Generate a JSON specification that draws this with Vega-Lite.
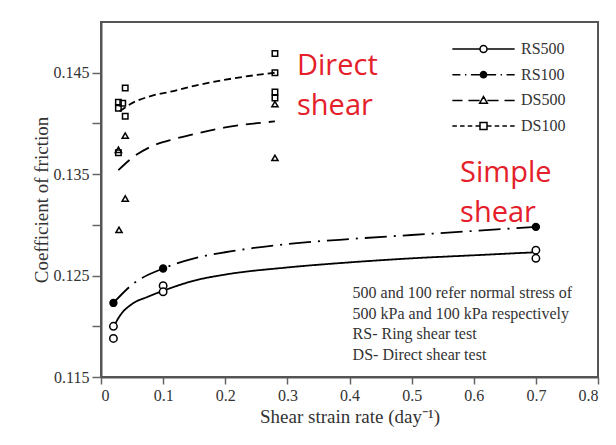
{
  "$schema": "https://vega.github.io/schema/vega-lite/v6.json",
  "width": 497,
  "height": 355,
  "autosize": "none",
  "padding": {"left": 101, "top": 22, "right": 18, "bottom": 68},
  "background": "white",
  "config": {
    "view": {"stroke": "#555", "strokeWidth": 2},
    "axis": {
      "domainColor": "#555", "domainWidth": 2, "tickColor": "#666", "tickWidth": 1.5, "grid": false,
      "labelFont": "Liberation Serif", "labelFontSize": 16, "labelColor": "#333",
      "titleFont": "Liberation Serif", "titleFontSize": 19, "titleFontWeight": "normal", "titleColor": "#333"
    },
    "legend": {
      "labelFont": "Liberation Serif", "labelFontSize": 16, "labelColor": "#333",
      "symbolStrokeColor": "black", "symbolStrokeWidth": 1.5, "symbolSize": 49, "symbolOpacity": 1,
      "padding": 0, "rowPadding": 9.7, "labelOffset": 29.5
    }
  },
  "datasets": {
    "points": [
      {"series": "RS500", "x": 0.02, "y": 0.1200},
      {"series": "RS500", "x": 0.02, "y": 0.1188},
      {"series": "RS500", "x": 0.1, "y": 0.1240},
      {"series": "RS500", "x": 0.1, "y": 0.1234},
      {"series": "RS500", "x": 0.7, "y": 0.1275},
      {"series": "RS500", "x": 0.7, "y": 0.1267},
      {"series": "RS100", "x": 0.02, "y": 0.1223},
      {"series": "RS100", "x": 0.1, "y": 0.1257},
      {"series": "RS100", "x": 0.7, "y": 0.1298},
      {"series": "DS500", "x": 0.029, "y": 0.1295},
      {"series": "DS500", "x": 0.039, "y": 0.1326},
      {"series": "DS500", "x": 0.039, "y": 0.1388},
      {"series": "DS500", "x": 0.028, "y": 0.1374},
      {"series": "DS500", "x": 0.28, "y": 0.1419},
      {"series": "DS500", "x": 0.28, "y": 0.1366},
      {"series": "DS100", "x": 0.039, "y": 0.1435},
      {"series": "DS100", "x": 0.028, "y": 0.1421},
      {"series": "DS100", "x": 0.035, "y": 0.1420},
      {"series": "DS100", "x": 0.028, "y": 0.1415},
      {"series": "DS100", "x": 0.039, "y": 0.1407},
      {"series": "DS100", "x": 0.028, "y": 0.1371},
      {"series": "DS100", "x": 0.28, "y": 0.1469},
      {"series": "DS100", "x": 0.28, "y": 0.1450},
      {"series": "DS100", "x": 0.28, "y": 0.1431},
      {"series": "DS100", "x": 0.28, "y": 0.1425}
    ],
    "curves": [
      {"series": "RS500", "x": 0.02, "y": 0.1199},
      {"series": "RS500", "x": 0.03, "y": 0.1210},
      {"series": "RS500", "x": 0.05, "y": 0.1222},
      {"series": "RS500", "x": 0.075, "y": 0.1229},
      {"series": "RS500", "x": 0.1, "y": 0.1235},
      {"series": "RS500", "x": 0.15, "y": 0.1245},
      {"series": "RS500", "x": 0.2, "y": 0.1251},
      {"series": "RS500", "x": 0.3, "y": 0.1258},
      {"series": "RS500", "x": 0.4, "y": 0.1263},
      {"series": "RS500", "x": 0.5, "y": 0.1267},
      {"series": "RS500", "x": 0.6, "y": 0.1270},
      {"series": "RS500", "x": 0.7, "y": 0.1273},
      {"series": "RS100", "x": 0.02, "y": 0.1223},
      {"series": "RS100", "x": 0.05, "y": 0.1241},
      {"series": "RS100", "x": 0.1, "y": 0.1257},
      {"series": "RS100", "x": 0.15, "y": 0.1267},
      {"series": "RS100", "x": 0.2, "y": 0.1273},
      {"series": "RS100", "x": 0.3, "y": 0.1281},
      {"series": "RS100", "x": 0.4, "y": 0.1286},
      {"series": "RS100", "x": 0.5, "y": 0.1290},
      {"series": "RS100", "x": 0.6, "y": 0.1294},
      {"series": "RS100", "x": 0.7, "y": 0.1298},
      {"series": "DS500", "x": 0.028, "y": 0.1354},
      {"series": "DS500", "x": 0.05, "y": 0.1366},
      {"series": "DS500", "x": 0.08, "y": 0.1377},
      {"series": "DS500", "x": 0.12, "y": 0.1385},
      {"series": "DS500", "x": 0.16, "y": 0.1391},
      {"series": "DS500", "x": 0.2, "y": 0.1396},
      {"series": "DS500", "x": 0.28, "y": 0.1402},
      {"series": "DS100", "x": 0.03, "y": 0.1412},
      {"series": "DS100", "x": 0.05, "y": 0.1420},
      {"series": "DS100", "x": 0.08, "y": 0.1427},
      {"series": "DS100", "x": 0.11, "y": 0.1431},
      {"series": "DS100", "x": 0.15, "y": 0.1437},
      {"series": "DS100", "x": 0.19, "y": 0.1442},
      {"series": "DS100", "x": 0.23, "y": 0.1446},
      {"series": "DS100", "x": 0.28, "y": 0.1450}
    ],
    "labels": [
      {"x": 0.3155, "y": 0.14478, "text": ["Direct", "shear"]},
      {"x": 0.578, "y": 0.13423, "text": ["Simple", "shear"]}
    ],
    "note": [
      {"x": 0.405, "y": 0.12276, "text": ["500 and 100 refer normal stress of", "500 kPa and 100 kPa respectively", "RS- Ring shear test", "DS- Direct shear test"]}
    ]
  },
  "layer": [
    {
      "data": {"name": "curves"},
      "mark": {"type": "line", "color": "black", "strokeWidth": 1.8, "interpolate": "monotone"},
      "encoding": {
        "x": {"field": "x", "type": "quantitative", "scale": {"domain": [0, 0.8], "nice": false, "zero": false},
          "axis": {"title": "Shear strain rate (day⁻¹)", "values": [0, 0.1, 0.2, 0.3, 0.4, 0.5, 0.6, 0.7, 0.8], "format": ".1~f", "tickSize": 7, "labelPadding": 3, "titlePadding": 4}},
        "y": {"field": "y", "type": "quantitative", "scale": {"domain": [0.115, 0.15], "nice": false, "zero": false},
          "axis": {"title": "Coefficient of friction", "values": [0.115, 0.12, 0.125, 0.13, 0.135, 0.14, 0.145],
            "labelExpr": "(round(datum.value*1000) % 10 == 5) ? format(datum.value, '.3f') : ''", "tickSize": 9, "labelPadding": 3, "titlePadding": 2}},
        "strokeDash": {"field": "series", "type": "nominal", "legend": null,
          "scale": {"domain": ["RS500", "RS100", "DS500", "DS100"], "range": [[1, 0], [22, 7, 2, 7], [15, 8], [7, 4]]}}
      }
    },
    {
      "data": {"name": "points"},
      "mark": {"type": "point", "filled": true, "stroke": "black", "strokeWidth": 1.5, "opacity": 1},
      "encoding": {
        "x": {"field": "x", "type": "quantitative"},
        "y": {"field": "y", "type": "quantitative"},
        "shape": {"field": "series", "type": "nominal", "legend": null,
          "scale": {"domain": ["RS500", "RS100", "DS500", "DS100"], "range": ["circle", "circle", "triangle-up", "square"]}},
        "size": {"field": "series", "type": "nominal", "legend": null,
          "scale": {"domain": ["RS500", "RS100", "DS500", "DS100"], "range": [55, 30, 65, 52]}},
        "fill": {"field": "series", "type": "nominal", "legend": null,
          "scale": {"domain": ["RS500", "RS100", "DS500", "DS100"], "range": ["white", "black", "transparent", "transparent"]}}
      }
    },
    {
      "data": {"name": "points"},
      "transform": [{"filter": "false"}],
      "mark": {"type": "point", "filled": true, "stroke": "black", "strokeWidth": 1.5, "opacity": 1},
      "encoding": {
        "shape": {"field": "series", "type": "nominal",
          "scale": {"domain": ["RS500", "RS100", "DS500", "DS100"], "range": [
            "M-8.9,0H-1M1,0H8.9M-1,0A1,1,0,1,1,1,0A1,1,0,1,1,-1,0",
            "M-8.9,0H-6.6M-5.3,0H-4.9M-3.6,0H-1M1,0H3.6M4.9,0H5.3M6.6,0H8.9M-0.9,0A0.9,0.9,0,1,1,0.9,0A0.9,0.9,0,1,1,-0.9,0",
            "M-8.9,0H-6M-4.3,0H-1.1M1.1,0H4.3M6,0H8.9M0,-1.1L1.1,0.8L-1.1,0.8Z",
            "M-8.9,0H-7.6M-6.7,0H-5.4M-4.5,0H-3.2M-2.3,0H-1M1,0H2.3M3.2,0H4.5M5.4,0H6.7M7.6,0H8.9M-1,-1H1V1H-1Z"
          ]},
          "legend": {"title": null, "orient": "none", "legendX": 374.5, "legendY": 19,
            "encode": {"symbols": {"update": {"stroke": {"value": "black"}, "strokeWidth": {"value": 1.5}, "opacity": {"value": 1}}}}}},
        "fill": {"field": "series", "type": "nominal",
          "scale": {"domain": ["RS500", "RS100", "DS500", "DS100"], "range": ["white", "black", "white", "white"]},
          "legend": {"title": null, "orient": "none", "legendX": 374.5, "legendY": 19,
            "encode": {"symbols": {"update": {"stroke": {"value": "black"}, "strokeWidth": {"value": 1.5}, "opacity": {"value": 1}}}}}}
      }
    },
    {
      "data": {"name": "labels"},
      "mark": {"type": "text", "font": "Open Sans", "fontSize": 29, "color": "#e4202a", "align": "left", "baseline": "alphabetic", "lineHeight": 40},
      "encoding": {
        "x": {"field": "x", "type": "quantitative"},
        "y": {"field": "y", "type": "quantitative"},
        "text": {"field": "text", "type": "nominal"}
      }
    },
    {
      "data": {"name": "note"},
      "mark": {"type": "text", "font": "Liberation Serif", "fontSize": 16, "color": "#333", "align": "left", "baseline": "alphabetic", "lineHeight": 20.6},
      "encoding": {
        "x": {"field": "x", "type": "quantitative"},
        "y": {"field": "y", "type": "quantitative"},
        "text": {"field": "text", "type": "nominal"}
      }
    }
  ],
  "resolve": {"scale": {"shape": "independent", "fill": "independent", "strokeDash": "independent", "size": "independent"}}
}
